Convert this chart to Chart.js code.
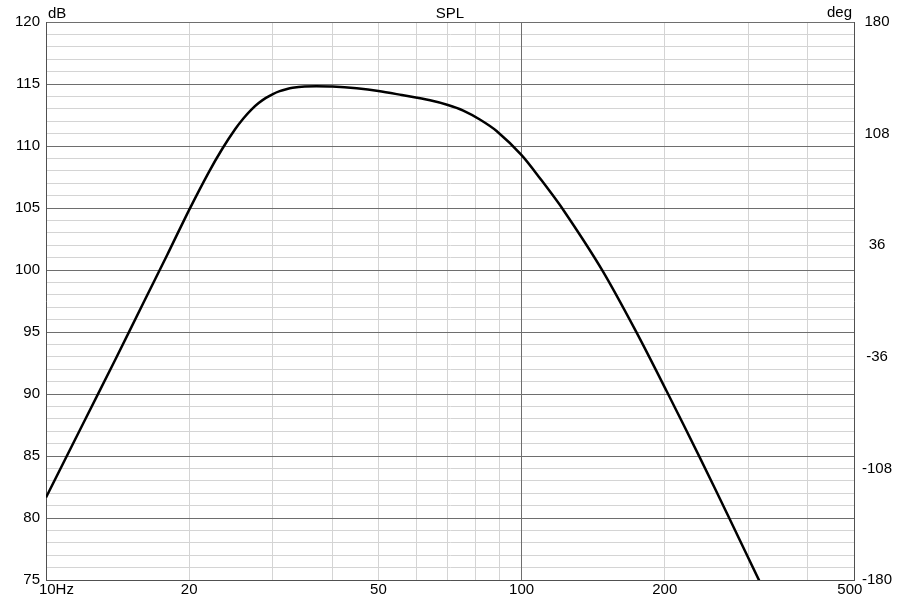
<!DOCTYPE html>
<html><head><meta charset="utf-8">
<script src="https://cdn.jsdelivr.net/npm/chart.js@4/dist/chart.umd.min.js"></script>
<style>html,body{margin:0;padding:0;background:#fff}#wrap{width:897px;height:600px}</style>
</head><body><div id="wrap"><canvas id="c" width="897" height="600"></canvas></div>
<script>
// Frequency (Hz) and SPL (dB)
const freqs = [10, 12, 14, 16, 18, 20, 22, 23.5, 25, 26, 27, 28, 29, 30, 31, 32, 33, 35, 37, 40, 45, 50, 56, 64.2, 70, 75.4, 81.7, 88.6, 100, 109.3, 122.4, 147.4, 174, 201.9, 237.2, 273.4, 315.6, 340];
const spl   = [81.65, 87.7, 92.8, 97.3, 101.25, 104.85, 107.9, 109.8, 111.37, 112.22, 112.92, 113.46, 113.88, 114.19, 114.42, 114.58, 114.69, 114.79, 114.81, 114.79, 114.65, 114.44, 114.11, 113.69, 113.31, 112.86, 112.14, 111.21, 109.27, 107.4, 104.84, 100.05, 95.05, 90.22, 84.85, 79.98, 74.99, 72.4];

// Axis ticks
const xGridTicks = [10, 20, 30, 40, 50, 60, 70, 80, 90, 100, 200, 300, 400, 500];
const xMajorTicks = [100];
const xTickLabels = {10: '10Hz', 20: '20', 50: '50', 100: '100', 200: '200', 500: '500'};
const dbMin = 75, dbMax = 120, dbMinorStep = 1, dbMajorStep = 5;
const degMin = -180, degMax = 180, degStep = 72;
const titleText = 'SPL', leftUnit = 'dB', rightUnit = 'deg';

const FONT = "'Liberation Sans', Arial, sans-serif";
const MAJOR = '#6e6e6e', MINOR = '#d4d4d4', BORDER = '#505050', CLEAR = 'rgba(0,0,0,0)';

const unitsPlugin = {
  id: 'units',
  afterDraw(chart) {
    const {ctx, chartArea} = chart;
    ctx.save();
    ctx.fillStyle = '#000';
    ctx.font = '15px ' + FONT;
    ctx.textBaseline = 'alphabetic';
    ctx.textAlign = 'left';
    ctx.fillText(leftUnit, chartArea.left + 2, 18);
    ctx.textAlign = 'right';
    ctx.fillText(rightUnit, chartArea.right - 2, 17);
    ctx.textAlign = 'center';
    ctx.fillText(titleText, (chartArea.left + chartArea.right) / 2, 18);
    ctx.restore();
  }
};

new Chart(document.getElementById('c'), {
  type: 'line',
  data: {
    datasets: [{
      data: freqs.map((f, i) => ({x: f, y: spl[i]})),
      borderColor: '#000',
      borderWidth: 2.5,
      pointRadius: 0,
      fill: false,
      tension: 0.3,
      xAxisID: 'x',
      yAxisID: 'y'
    }]
  },
  options: {
    responsive: false,
    animation: false,
    devicePixelRatio: 1,
    layout: {padding: {top: 22, left: 0, right: 0, bottom: 0}},
    plugins: {legend: {display: false}, tooltip: {enabled: false}, title: {display: false}},
    scales: {
      x: {
        type: 'logarithmic', position: 'bottom', min: 10, max: 500,
        afterBuildTicks: s => { s.ticks = xGridTicks.map(v => ({value: v})); },
        afterFit: s => { s.height = 20; },
        ticks: {
          autoSkip: false, maxRotation: 0, minRotation: 0, padding: 1, color: '#000',
          font: {family: FONT, size: 15},
          callback: v => {
            if (v === 10) return '     ' + xTickLabels[v];
            if (v === 500) return xTickLabels[v] + '  ';
            return xTickLabels[v] || '';
          }
        },
        grid: {color: c => (c.tick && xMajorTicks.includes(c.tick.value)) ? CLEAR : MINOR, drawTicks: false, lineWidth: 1, z: -2},
        border: {color: BORDER, width: 1}
      },
      xMaj: {
        type: 'logarithmic', position: 'bottom', min: 10, max: 500,
        afterBuildTicks: s => { s.ticks = xMajorTicks.map(v => ({value: v})); },
        afterFit: s => { s.height = 0; },
        ticks: {display: false},
        grid: {color: MAJOR, drawTicks: false, lineWidth: 1, z: -1},
        border: {display: false}
      },
      y: {
        type: 'linear', position: 'left', min: dbMin, max: dbMax,
        afterFit: s => { s.width = 46; },
        ticks: {
          stepSize: dbMinorStep, autoSkip: false, padding: 6, color: '#000',
          font: {family: FONT, size: 15},
          callback: v => (v % dbMajorStep === 0) ? String(v) : ''
        },
        grid: {color: c => (c.tick && c.tick.value % dbMajorStep === 0) ? CLEAR : MINOR, drawTicks: false, lineWidth: 1, z: -2},
        border: {color: BORDER, width: 1}
      },
      yMaj: {
        type: 'linear', position: 'left', min: dbMin, max: dbMax,
        afterFit: s => { s.width = 0; },
        ticks: {display: false, stepSize: dbMajorStep},
        grid: {color: MAJOR, drawTicks: false, lineWidth: 1, z: -1},
        border: {display: false}
      },
      y2: {
        type: 'linear', position: 'right', min: degMin, max: degMax,
        afterFit: s => { s.width = 43; },
        ticks: {
          stepSize: degStep, autoSkip: false, padding: 8, crossAlign: 'center', color: '#000',
          font: {family: FONT, size: 15}
        },
        grid: {drawOnChartArea: false, drawTicks: false},
        border: {color: BORDER, width: 1}
      }
    }
  },
  plugins: [unitsPlugin]
});
</script>
</body></html>
